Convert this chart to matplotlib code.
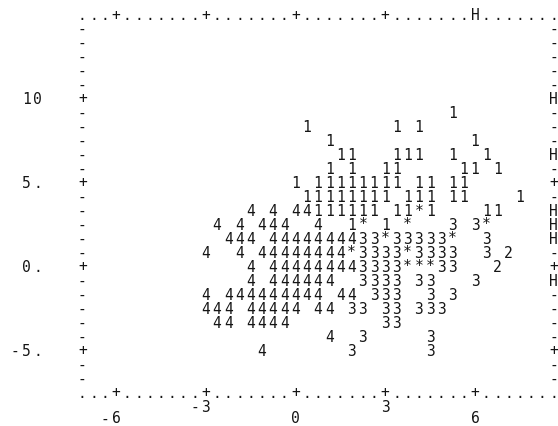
import matplotlib
matplotlib.use("Agg")
import matplotlib.pyplot as plt

# --- DATA ---
# printed symbols, one string per printer line, starting at line 7;
# string index = printer column (column 0 is the left frame)
first_line = 7
plot_lines = [
    "                                 1",
    "                    1       1 1",
    "                      1            1",
    "                       11   111  1  1",
    "                      1 1  11     11 1",
    "                   1 11111111 11 11",
    "                    11111111 111 11    1",
    "               4 4 44111111 11*1    11",
    "            4 4 444  4  1* 1 *   3 3*",
    "             444 4444444433*33333*  3",
    "           4  4 44444444*3333*3333  3 2",
    "               4 444444443333***33   2",
    "               4 444444  3333 33   3",
    "           4 444444444 44 333  3 3",
    "           444 44444 44 33 33 333",
    "            44 4444        33",
    "                      4  3     3",
    "                4       3      3",
]

x_ticks = [-6, -3, 0, 3, 6]
x_tick_labels = ["-6", "-3", "0", "3", "6"]
y_ticks = [10, 5, 0, -5]
y_tick_labels = ["10", "5.", "0.", "-5."]
top_overflow = [6]                               # 'H' on the top frame
right_frame = "-----H---H-+-HHH-+H----+--"       # lines 1..26

# printer geometry
dx = 3 / 8          # x units per column
dy = 5 / 6          # y units per line
x0, y0 = -7.0, 15.0  # values at column 0 / line 0
ncols, nlines = 42, 27
px_col, px_line = 11.22, 14.0
left_px, top_px = 82.3, 15.0
W, H = 558, 426

ink = "#151515"


def col_x(c):
    return x0 + c * dx


def line_y(r):
    return y0 - r * dy


fig = plt.figure(figsize=(W / 100, H / 100), dpi=100)
ax = fig.add_axes([0, 0, 1, 1])
ax.set_xlim(x0 - left_px / px_col * dx, x0 + (W - left_px) / px_col * dx)
ax.set_ylim(y0 - (H - top_px) / px_line * dy, y0 + top_px / px_line * dy)
ax.axis("off")

style = dict(family="DejaVu Sans Mono", fontsize=10.5, color=ink,
             ha="center", va="center")


def put(c, r, ch):
    ax.text(col_x(c), line_y(r), ch, **style)


# frame
xtick_cols = [round((v - x0) / dx) for v in x_ticks]
ytick_lines = [round((y0 - v) / dy) for v in y_ticks]
top_h_cols = [round((v - x0) / dx) for v in top_overflow]
for c in range(ncols + 1):
    top = "+" if c in xtick_cols else "."
    if c in top_h_cols:
        top = "H"
    bottom = "+" if c in xtick_cols else "."
    put(c, 0, top)
    put(c, nlines, bottom)
for r in range(1, nlines):
    put(0, r, "+" if r in ytick_lines else "-")
    put(ncols, r, right_frame[r - 1])

# tick labels, right-aligned on the tick column
for i, (c, lab) in enumerate(zip(xtick_cols, x_tick_labels)):
    r = nlines + (1.85 if i % 2 == 0 else 1.0)
    for k, ch in enumerate(lab):
        put(c - (len(lab) - 1 - k), r, ch)
for r, lab in zip(ytick_lines, y_tick_labels):
    for k, ch in enumerate(lab):
        put(-4 - (len(lab) - 1 - k), r, ch)

# plotted points
for i, s in enumerate(plot_lines):
    for c, ch in enumerate(s):
        if ch != " ":
            put(c, first_line + i, ch)

fig.savefig("out.png", dpi=100, facecolor="white")
